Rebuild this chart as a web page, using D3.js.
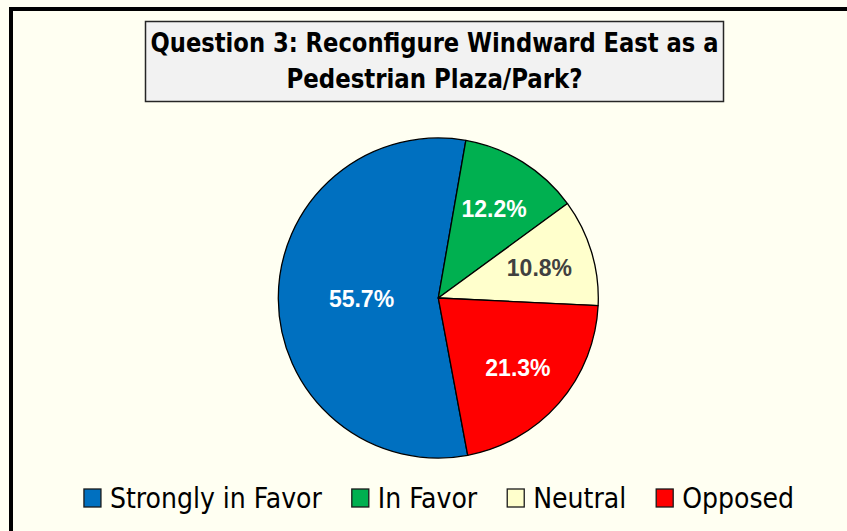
<!DOCTYPE html>
<html>
<head>
<meta charset="utf-8">
<script src="https://cdn.jsdelivr.net/npm/d3@7"></script>
<style>
  html, body { margin: 0; padding: 0; background: #fffff2; }
  svg { display: block; }
</style>
</head>
<body>
<svg id="chart" width="847" height="531"></svg>
<script>
// chart data
const categories = ['Strongly in Favor', 'In Favor', 'Neutral', 'Opposed'];
const shares = [55.7, 12.2, 10.8, 21.3];
const sliceColors = ['#0070c0', '#00b050', '#ffffcc', '#ff0000'];
const labelColors = ['#ffffff', '#ffffff', '#404040', '#ffffff'];
const titleLines = ['Question 3: Reconfigure Windward East as a', 'Pedestrian Plaza/Park?'];

const W = 847, H = 531;
const narrow = '"DejaVu Sans Condensed", "Liberation Sans Narrow", "DejaVu Sans", sans-serif';
const svg = d3.select('#chart');

// outer frame (only top and left edges are inside the picture)
svg.append('rect')
    .attr('x', 11).attr('y', 9)
    .attr('width', W + 20).attr('height', H + 20)
    .attr('fill', '#fffff2')
    .attr('stroke', '#000').attr('stroke-width', 4);

// title box
const titleBox = svg.append('g');
titleBox.append('rect')
    .attr('x', 145.5).attr('y', 21.5)
    .attr('width', 578).attr('height', 80)
    .attr('fill', '#f2f2f2')
    .attr('stroke', '#262626').attr('stroke-width', 1.5);

const titleWidths = [568, 296];
titleBox.selectAll('text')
    .data(titleLines)
    .join('text')
    .attr('x', 434.5)
    .attr('y', (d, i) => 52 + i * 36)
    .attr('text-anchor', 'middle')
    .style('font-family', narrow)
    .style('font-weight', 'bold')
    .style('font-size', '27px')
    .attr('fill', '#000')
    .text(d => d)
    .each(function (d, i) {
        // squeeze to the width the title takes in the original
        if (this.getComputedTextLength() > titleWidths[i] + 4) {
            d3.select(this).attr('textLength', titleWidths[i]).attr('lengthAdjust', 'spacingAndGlyphs');
        }
    });

// pie
const cx = 438.3, cy = 298, R = 160;
const start = 169.4 * Math.PI / 180;
const pie = d3.pie().sort(null).value(d => d)
    .startAngle(start).endAngle(start + 2 * Math.PI);
const arcs = pie(shares);
const arc = d3.arc().innerRadius(0).outerRadius(R);

const g = svg.append('g').attr('transform', `translate(${cx},${cy})`);
g.selectAll('path')
    .data(arcs)
    .join('path')
    .attr('d', arc)
    .attr('fill', (d, i) => sliceColors[i])
    .attr('stroke', '#000')
    .attr('stroke-width', 1.3)
    .attr('stroke-linejoin', 'round');

// labels: big slice sits nearer the middle, small ones further out
const labelR = d => (d.endAngle - d.startAngle > Math.PI ? 0.48 : 0.66) * R;
g.selectAll('text.lbl')
    .data(arcs)
    .join('text')
    .attr('class', 'lbl')
    .attr('transform', d => {
        const a = (d.startAngle + d.endAngle) / 2;
        const r = labelR(d);
        return `translate(${r * Math.sin(a)},${-r * Math.cos(a)})`;
    })
    .attr('dy', '0.36em')
    .attr('text-anchor', 'middle')
    .style('font-family', '"Liberation Sans", Arial, sans-serif')
    .style('font-weight', 'bold')
    .style('font-size', '23px')
    .attr('fill', (d, i) => labelColors[i])
    .text(d => d3.format('.1f')(d.data) + '%');

// legend
const legend = svg.append('g');
const items = legend.selectAll('g')
    .data(categories)
    .join('g');
items.append('rect')
    .attr('x', 0).attr('y', -9)
    .attr('width', 17).attr('height', 18)
    .attr('fill', (d, i) => sliceColors[i])
    .attr('stroke', '#1a1a1a').attr('stroke-width', 1.3);
items.append('text')
    .attr('x', 26)
    .attr('y', 9.5)
    .style('font-family', narrow)
    .style('font-size', '28px')
    .attr('fill', '#000')
    .text(d => d);

// lay legend entries out in a row, centred under the pie
const gap = 30;
let x = 0;
const offsets = [];
items.each(function () {
    offsets.push(x);
    x += 26 + d3.select(this).select('text').node().getComputedTextLength() + gap;
});
const total = x - gap;
const x0 = 439 - total / 2;
items.attr('transform', (d, i) => `translate(${x0 + offsets[i]},498)`);
</script>
</body>
</html>
